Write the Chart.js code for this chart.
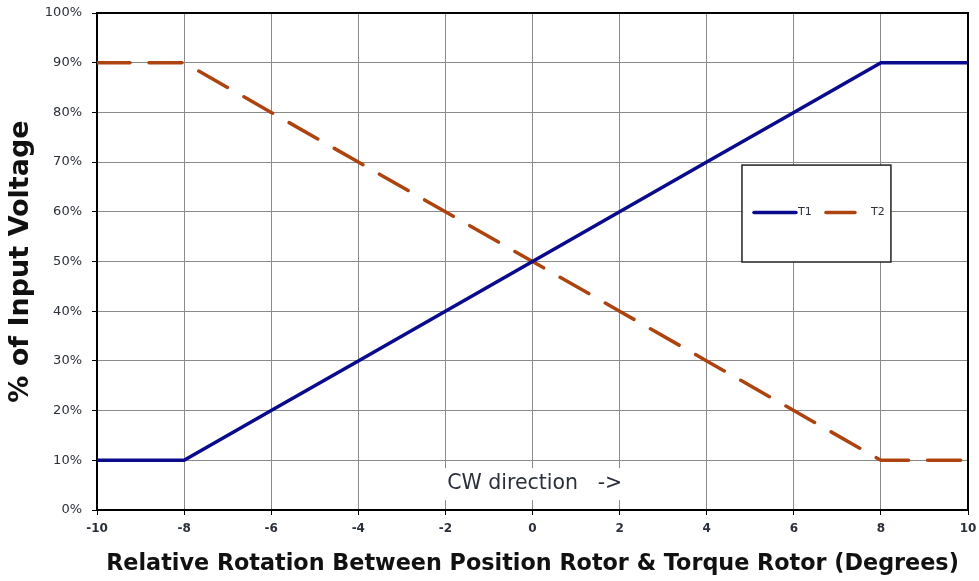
<!DOCTYPE html>
<html>
<head>
<meta charset="utf-8">
<script src="https://cdn.jsdelivr.net/npm/chart.js@4.4.1/dist/chart.umd.min.js"></script>
<style>
  html, body { margin:0; padding:0; background:#fff; }
  #wrap { width:979px; height:581px; position:relative; }
</style>
</head>
<body>
<div id="wrap"><canvas id="c" width="979" height="581"></canvas></div>
<script>
// rotation in degrees
const rotation = [-10, -8, -6, -4, -2, 0, 2, 4, 6, 8, 10];
// % of input voltage
const t1 = [10, 10, 20, 30, 40, 50, 60, 70, 80, 90, 90];
const t2 = [90, 90, 80, 70, 60, 50, 40, 30, 20, 10, 10];
const seriesNames = ['T1', 'T2'];
const note = 'CW direction   ->';

const pts = ys => rotation.map((x, i) => ({ x, y: ys[i] }));
const FONT = '"DejaVu Sans", Verdana, sans-serif';
const TXT = '#2a2f3a';

// black frame round the plot, plus the note box
const framePlugin = {
  id: 'frame',
  beforeDatasetsDraw(chart) {
    const { ctx, chartArea: a } = chart;
    ctx.save();
    ctx.font = '20.5px ' + FONT;
    const w = ctx.measureText(note).width;
    const cx = chart.scales.x.getPixelForValue(0.05);
    const cy = chart.scales.y.getPixelForValue(5.2);
    ctx.fillStyle = '#fff';
    ctx.fillRect(cx - w / 2 - 4, cy - 16, w + 8, 32);
    ctx.fillStyle = TXT;
    ctx.textAlign = 'center';
    ctx.textBaseline = 'middle';
    ctx.fillText(note, cx, cy);
    ctx.strokeStyle = '#000';
    ctx.lineWidth = 2;
    ctx.strokeRect(a.left, a.top, a.right - a.left, a.bottom - a.top);
    ctx.restore();
  }
};

// boxed legend inside the plot
const legendBox = {
  id: 'legendBox',
  afterDatasetsDraw(chart) {
    const { ctx } = chart;
    const xs = chart.scales.x, ys = chart.scales.y;
    const x0 = xs.getPixelForValue(4.81), x1 = xs.getPixelForValue(8.23);
    const y0 = ys.getPixelForValue(69.4), y1 = ys.getPixelForValue(49.9);
    ctx.save();
    ctx.fillStyle = '#fff';
    ctx.fillRect(x0, y0, x1 - x0, y1 - y0);
    ctx.strokeStyle = '#222';
    ctx.lineWidth = 1.5;
    ctx.strokeRect(x0, y0, x1 - x0, y1 - y0);
    const my = (y0 + y1) / 2 - 1;
    const ds = chart.data.datasets;
    ctx.lineWidth = 3.5;
    ctx.lineCap = 'round';
    ctx.strokeStyle = ds[0].borderColor;
    ctx.beginPath(); ctx.moveTo(x0 + 12, my); ctx.lineTo(x0 + 54, my); ctx.stroke();
    ctx.strokeStyle = ds[1].borderColor;
    ctx.beginPath(); ctx.moveTo(x0 + 84, my); ctx.lineTo(x0 + 113, my); ctx.stroke();
    ctx.fillStyle = TXT;
    ctx.font = '11px ' + FONT;
    ctx.textBaseline = 'middle';
    ctx.fillText(ds[0].label, x0 + 56, my);
    ctx.fillText(ds[1].label, x0 + 129, my);
    ctx.restore();
  }
};

new Chart(document.getElementById('c'), {
  type: 'line',
  data: {
    datasets: [
      { label: seriesNames[0], data: pts(t1), borderColor: '#0a0a8c', borderWidth: 3.5,
        pointRadius: 0, tension: 0, fill: false },
      { label: seriesNames[1], data: pts(t2), borderColor: '#ad4410', borderWidth: 3.5,
        borderDash: [33, 19], borderCapStyle: 'round', pointRadius: 0, tension: 0, fill: false },
    ]
  },
  options: {
    responsive: false, animation: false,
    layout: { padding: { top: 13, right: 11, left: 0, bottom: 0 } },
    plugins: { legend: { display: false }, tooltip: { enabled: false } },
    scales: {
      x: {
        type: 'linear', min: -10, max: 10,
        afterFit: s => { s.height = 71; s.paddingLeft = 0; s.paddingRight = 0; },
        ticks: { stepSize: 2, color: TXT, padding: 7, font: { family: FONT, size: 12, weight: 'bold' } },
        grid: { color: '#8a8a8a', lineWidth: 1, tickColor: '#000', tickLength: 5 },
        border: { display: true, color: '#000', width: 2 },
        title: { display: true, text: 'Relative Rotation Between Position Rotor & Torque Rotor (Degrees)',
          color: '#111', font: { family: FONT, size: 22.3, weight: 'bold' }, padding: { top: 0, bottom: 3 } }
      },
      y: {
        min: 0, max: 100,
        afterFit: s => { s.width = 97; s.paddingTop = 0; s.paddingBottom = 0; },
        ticks: { stepSize: 10, color: TXT, padding: 10, callback: v => v + '%',
          font: { family: FONT, size: 13 } },
        grid: { color: '#8a8a8a', lineWidth: 1, tickColor: '#000', tickLength: 5 },
        border: { display: true, color: '#000', width: 2 },
        title: { display: true, text: '% of Input Voltage', color: '#111',
          font: { family: FONT, size: 27, weight: 'bold' }, padding: { top: 5, bottom: 0 } }
      }
    }
  },
  plugins: [framePlugin, legendBox]
});
</script>
</body>
</html>
